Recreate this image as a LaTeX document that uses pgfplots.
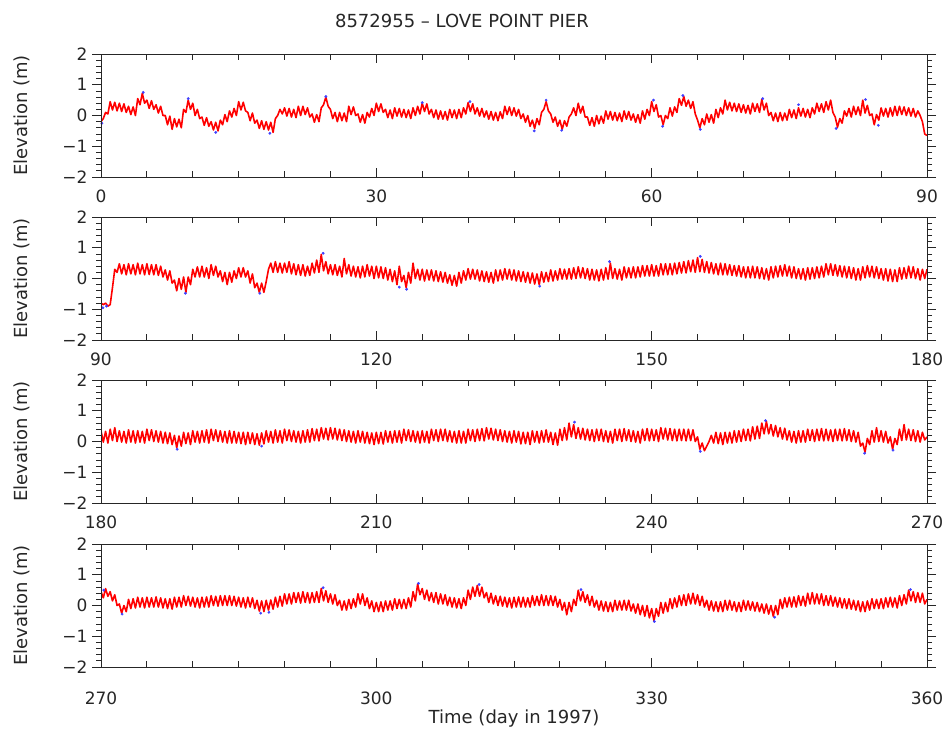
\documentclass[border=0pt]{standalone}
\usepackage{pgfplots}
\usepackage{pgfplotstable}
\pgfplotsset{compat=1.18}
\usepackage{fontspec}
\setmainfont{DejaVu Sans}

% Panel 1: days 0-90, 4 samples per day
\pgfplotstableread[row sep=\\]{y\\
-0.2\\-0.1\\0.1\\0.05\\
0.45\\0.18\\0.43\\0.15\\
0.40\\0.13\\0.38\\0.10\\
0.30\\0.03\\0.28\\0.0\\
0.55\\0.35\\0.72\\0.40\\
0.50\\0.23\\0.48\\0.20\\
0.35\\0.08\\0.30\\0.0\\
0.0\\-0.30\\-0.02\\-0.45\\
-0.10\\-0.37\\-0.12\\-0.40\\
0.20\\0.10\\0.50\\0.20\\
0.40\\0.0\\0.20\\-0.10\\
-0.05\\-0.32\\-0.07\\-0.35\\
-0.20\\-0.47\\-0.22\\-0.50\\
-0.15\\-0.30\\0.03\\-0.20\\
0.15\\-0.05\\0.23\\0.0\\
0.45\\0.18\\0.43\\0.15\\
0.10\\-0.17\\0.08\\-0.25\\
-0.15\\-0.42\\-0.17\\-0.45\\
-0.20\\-0.47\\-0.22\\-0.55\\
-0.10\\0.0\\0.20\\0.05\\
0.25\\-0.02\\0.23\\-0.05\\
0.20\\-0.07\\0.30\\0.0\\
0.30\\0.03\\0.25\\-0.05\\
0.05\\-0.22\\0.03\\-0.20\\
0.25\\0.35\\0.60\\0.30\\
0.20\\-0.10\\0.10\\-0.20\\
0.10\\-0.17\\0.08\\-0.20\\
0.30\\0.03\\0.28\\0.0\\
0.05\\-0.22\\0.03\\-0.25\\
0.10\\-0.05\\0.23\\0.0\\
0.40\\0.13\\0.38\\0.10\\
0.20\\-0.07\\0.18\\-0.10\\
0.25\\-0.02\\0.23\\-0.05\\
0.20\\-0.07\\0.18\\-0.10\\
0.25\\0.0\\0.30\\0.05\\
0.40\\0.13\\0.38\\0.05\\
0.20\\-0.07\\0.18\\-0.12\\
0.15\\-0.12\\0.13\\-0.15\\
0.20\\-0.07\\0.18\\-0.10\\
0.20\\-0.07\\0.25\\0.05\\
0.42\\0.13\\0.38\\0.05\\
0.25\\-0.02\\0.23\\-0.05\\
0.15\\-0.12\\0.13\\-0.15\\
0.10\\-0.17\\0.12\\-0.10\\
0.30\\0.03\\0.28\\0.0\\
0.25\\-0.02\\0.20\\-0.10\\
0.05\\-0.22\\0.0\\-0.35\\
-0.15\\-0.42\\-0.10\\-0.30\\
0.10\\0.20\\0.45\\0.15\\
0.05\\-0.22\\-0.05\\-0.35\\
-0.15\\-0.45\\-0.17\\-0.35\\
-0.05\\0.05\\0.25\\0.0\\
0.40\\0.08\\0.30\\-0.05\\
-0.05\\-0.32\\-0.07\\-0.35\\
0.0\\-0.27\\-0.02\\-0.25\\
0.15\\-0.12\\0.13\\-0.15\\
0.10\\-0.17\\0.08\\-0.20\\
0.15\\-0.12\\0.13\\-0.15\\
0.05\\-0.22\\0.03\\-0.25\\
0.15\\-0.12\\0.20\\0.0\\
0.45\\0.13\\0.35\\-0.05\\
0.0\\-0.30\\0.0\\-0.10\\
0.25\\-0.02\\0.28\\0.10\\
0.55\\0.33\\0.62\\0.30\\
0.50\\0.23\\0.45\\0.05\\
-0.15\\-0.40\\-0.10\\-0.30\\
0.05\\-0.22\\0.03\\-0.25\\
0.20\\-0.07\\0.25\\0.05\\
0.50\\0.18\\0.43\\0.15\\
0.40\\0.13\\0.38\\0.10\\
0.35\\0.08\\0.33\\0.05\\
0.40\\0.13\\0.38\\0.10\\
0.52\\0.18\\0.40\\0.0\\
0.10\\-0.17\\0.08\\-0.20\\
0.10\\-0.17\\0.08\\-0.15\\
0.20\\-0.07\\0.18\\-0.10\\
0.25\\-0.02\\0.23\\-0.05\\
0.20\\-0.07\\0.25\\0.05\\
0.40\\0.13\\0.38\\0.10\\
0.45\\0.18\\0.50\\0.10\\
-0.05\\-0.38\\-0.10\\-0.25\\
0.15\\-0.02\\0.23\\-0.05\\
0.30\\0.03\\0.28\\0.0\\
0.50\\0.08\\0.33\\0.0\\
0.05\\-0.30\\0.03\\-0.15\\
0.25\\-0.02\\0.23\\-0.05\\
0.25\\-0.02\\0.30\\0.0\\
0.30\\0.03\\0.28\\0.0\\
0.25\\-0.02\\0.23\\-0.05\\
0.15\\0.0\\-0.20\\-0.60\\
-0.65\\
}\tA

% Panel 2: days 90-180
\pgfplotstableread[row sep=\\]{y\\
-0.8\\-0.85\\-0.8\\-0.9\\
-0.85\\-0.3\\0.3\\0.2\\
0.48\\0.15\\0.45\\0.12\\
0.48\\0.15\\0.45\\0.12\\
0.50\\0.15\\0.45\\0.12\\
0.48\\0.13\\0.45\\0.12\\
0.45\\0.10\\0.40\\0.05\\
0.28\\-0.05\\0.25\\-0.15\\
-0.05\\-0.40\\0.0\\-0.35\\
0.05\\-0.45\\0.05\\-0.20\\
0.30\\0.05\\0.38\\0.05\\
0.40\\0.05\\0.35\\0.0\\
0.45\\0.10\\0.40\\0.05\\
0.25\\-0.10\\0.20\\-0.20\\
0.20\\-0.12\\0.25\\0.0\\
0.35\\0.05\\0.35\\0.05\\
0.25\\-0.15\\0.15\\-0.30\\
-0.15\\-0.45\\-0.15\\-0.45\\
-0.10\\0.30\\0.50\\0.20\\
0.55\\0.20\\0.50\\0.18\\
0.50\\0.20\\0.55\\0.15\\
0.48\\0.12\\0.45\\0.10\\
0.45\\0.08\\0.40\\0.10\\
0.50\\0.18\\0.60\\0.20\\
0.78\\0.25\\0.55\\0.15\\
0.45\\0.12\\0.45\\0.10\\
0.40\\0.05\\0.65\\0.15\\
0.45\\0.08\\0.40\\0.05\\
0.38\\0.02\\0.40\\0.05\\
0.45\\0.08\\0.40\\0.0\\
0.40\\0.02\\0.38\\0.0\\
0.35\\-0.05\\0.30\\-0.10\\
0.25\\-0.20\\0.40\\-0.10\\
0.10\\-0.30\\0.20\\-0.15\\
0.50\\0.0\\0.30\\-0.05\\
0.30\\-0.08\\0.28\\-0.05\\
0.28\\-0.08\\0.25\\-0.10\\
0.22\\-0.12\\0.20\\-0.15\\
0.12\\-0.22\\0.10\\-0.25\\
0.20\\-0.15\\0.25\\-0.05\\
0.32\\-0.02\\0.30\\-0.02\\
0.28\\-0.08\\0.25\\-0.10\\
0.22\\-0.12\\0.20\\-0.15\\
0.28\\-0.08\\0.28\\-0.05\\
0.32\\-0.02\\0.30\\-0.05\\
0.28\\-0.08\\0.25\\-0.10\\
0.22\\-0.12\\0.20\\-0.15\\
0.18\\-0.18\\0.15\\-0.20\\
0.22\\-0.12\\0.20\\-0.10\\
0.28\\-0.08\\0.25\\-0.05\\
0.32\\-0.02\\0.30\\-0.02\\
0.32\\-0.02\\0.35\\0.0\\
0.38\\0.02\\0.35\\0.0\\
0.32\\-0.05\\0.30\\-0.05\\
0.28\\-0.08\\0.30\\-0.05\\
0.35\\-0.02\\0.50\\0.0\\
0.32\\-0.02\\0.30\\-0.05\\
0.38\\0.02\\0.35\\0.02\\
0.38\\0.02\\0.38\\0.05\\
0.42\\0.08\\0.42\\0.08\\
0.45\\0.08\\0.42\\0.08\\
0.48\\0.12\\0.48\\0.12\\
0.48\\0.12\\0.50\\0.15\\
0.52\\0.18\\0.55\\0.18\\
0.58\\0.22\\0.60\\0.20\\
0.68\\0.22\\0.62\\0.20\\
0.55\\0.18\\0.52\\0.15\\
0.48\\0.12\\0.50\\0.12\\
0.48\\0.12\\0.45\\0.10\\
0.42\\0.08\\0.42\\0.05\\
0.38\\0.02\\0.38\\0.02\\
0.40\\0.02\\0.38\\0.0\\
0.35\\-0.02\\0.32\\-0.05\\
0.38\\0.02\\0.40\\0.05\\
0.42\\0.08\\0.45\\0.08\\
0.40\\0.02\\0.38\\0.0\\
0.32\\-0.02\\0.32\\-0.05\\
0.35\\-0.02\\0.35\\0.0\\
0.38\\0.02\\0.40\\0.05\\
0.48\\0.12\\0.48\\0.10\\
0.45\\0.08\\0.42\\0.05\\
0.40\\0.02\\0.38\\0.0\\
0.35\\-0.05\\0.32\\-0.05\\
0.38\\0.02\\0.42\\0.05\\
0.40\\0.02\\0.38\\0.0\\
0.32\\-0.05\\0.32\\-0.08\\
0.30\\-0.10\\0.28\\-0.10\\
0.35\\-0.02\\0.35\\0.0\\
0.40\\0.02\\0.38\\0.0\\
0.32\\-0.05\\0.30\\0.0\\
0.3\\
}\tB

% Panel 3: days 180-270
\pgfplotstableread[row sep=\\]{y\\
0.35\\-0.02\\0.33\\-0.05\\
0.40\\0.03\\0.45\\0.0\\
0.35\\-0.02\\0.33\\-0.05\\
0.38\\-0.02\\0.35\\-0.05\\
0.35\\-0.02\\0.33\\-0.05\\
0.40\\0.03\\0.38\\0.0\\
0.35\\-0.02\\0.33\\-0.05\\
0.30\\-0.07\\0.28\\-0.10\\
0.20\\-0.20\\0.18\\-0.15\\
0.30\\-0.07\\0.28\\-0.10\\
0.35\\-0.02\\0.33\\-0.05\\
0.35\\-0.02\\0.38\\-0.05\\
0.40\\0.03\\0.38\\0.0\\
0.35\\-0.02\\0.33\\-0.05\\
0.35\\-0.05\\0.33\\-0.05\\
0.30\\-0.07\\0.30\\-0.10\\
0.30\\-0.07\\0.28\\-0.10\\
0.25\\-0.12\\0.28\\-0.08\\
0.35\\-0.02\\0.33\\-0.05\\
0.38\\-0.02\\0.35\\-0.05\\
0.40\\0.03\\0.38\\0.0\\
0.35\\-0.02\\0.33\\-0.05\\
0.35\\-0.02\\0.38\\-0.02\\
0.42\\0.03\\0.40\\0.02\\
0.45\\0.08\\0.43\\0.05\\
0.45\\0.08\\0.43\\0.05\\
0.40\\0.03\\0.38\\0.0\\
0.35\\-0.02\\0.33\\-0.05\\
0.35\\-0.02\\0.33\\-0.05\\
0.30\\-0.07\\0.28\\-0.10\\
0.30\\-0.07\\0.30\\-0.08\\
0.35\\-0.02\\0.33\\-0.05\\
0.35\\-0.02\\0.35\\-0.05\\
0.40\\0.03\\0.38\\0.0\\
0.35\\-0.02\\0.33\\-0.05\\
0.35\\-0.02\\0.33\\-0.05\\
0.40\\0.03\\0.38\\0.0\\
0.40\\0.03\\0.40\\0.0\\
0.35\\-0.02\\0.33\\-0.05\\
0.35\\-0.05\\0.33\\-0.05\\
0.40\\0.03\\0.38\\0.0\\
0.40\\0.03\\0.42\\0.02\\
0.45\\0.08\\0.43\\0.05\\
0.40\\0.03\\0.38\\0.0\\
0.35\\-0.02\\0.33\\-0.05\\
0.35\\-0.02\\0.33\\-0.08\\
0.30\\-0.07\\0.30\\-0.10\\
0.35\\-0.02\\0.33\\-0.05\\
0.35\\-0.02\\0.38\\-0.02\\
0.30\\-0.10\\0.28\\-0.12\\
0.40\\0.03\\0.45\\0.05\\
0.60\\0.15\\0.55\\0.10\\
0.45\\0.08\\0.43\\0.05\\
0.40\\0.03\\0.38\\0.0\\
0.40\\0.03\\0.40\\0.0\\
0.35\\-0.02\\0.33\\-0.05\\
0.40\\0.03\\0.40\\0.0\\
0.42\\0.03\\0.38\\0.0\\
0.35\\-0.02\\0.33\\-0.05\\
0.40\\0.03\\0.42\\0.02\\
0.40\\0.03\\0.38\\0.0\\
0.45\\0.08\\0.43\\0.05\\
0.42\\0.03\\0.40\\0.02\\
0.40\\0.03\\0.40\\0.02\\
0.40\\0.03\\0.38\\0.0\\
0.15\\-0.25\\-0.05\\-0.30\\
-0.15\\0.0\\0.20\\-0.05\\
0.30\\-0.07\\0.28\\-0.10\\
0.30\\-0.05\\0.30\\-0.05\\
0.35\\-0.02\\0.35\\0.0\\
0.40\\0.03\\0.40\\0.02\\
0.48\\0.08\\0.50\\0.10\\
0.60\\0.25\\0.65\\0.25\\
0.55\\0.18\\0.52\\0.15\\
0.45\\0.08\\0.43\\0.05\\
0.35\\-0.02\\0.33\\-0.05\\
0.35\\-0.02\\0.35\\-0.02\\
0.40\\0.03\\0.38\\0.0\\
0.40\\0.03\\0.42\\0.02\\
0.40\\0.03\\0.38\\0.0\\
0.40\\0.03\\0.40\\0.02\\
0.42\\0.03\\0.38\\0.0\\
0.35\\-0.02\\0.30\\-0.15\\
-0.05\\-0.35\\0.10\\-0.10\\
0.35\\-0.02\\0.45\\0.0\\
0.35\\-0.02\\0.33\\-0.05\\
0.15\\-0.25\\0.10\\-0.10\\
0.40\\0.03\\0.55\\0.05\\
0.40\\0.03\\0.38\\0.0\\
0.35\\-0.02\\0.30\\0.05\\
0.15\\
}\tC

% Panel 4: days 270-360
\pgfplotstableread[row sep=\\]{y\\
0.45\\0.25\\0.55\\0.30\\
0.45\\0.15\\0.35\\0.0\\
0.05\\-0.25\\0.0\\-0.20\\
0.20\\-0.10\\0.22\\-0.08\\
0.27\\-0.05\\0.25\\-0.08\\
0.27\\-0.05\\0.25\\-0.05\\
0.28\\-0.05\\0.25\\-0.08\\
0.22\\-0.10\\0.22\\-0.12\\
0.27\\-0.05\\0.27\\-0.05\\
0.32\\0.0\\0.30\\-0.02\\
0.27\\-0.05\\0.25\\-0.08\\
0.27\\-0.05\\0.28\\-0.05\\
0.32\\0.0\\0.30\\-0.02\\
0.32\\0.0\\0.32\\0.0\\
0.32\\0.0\\0.30\\-0.02\\
0.27\\-0.05\\0.25\\-0.08\\
0.27\\-0.05\\0.25\\-0.10\\
0.17\\-0.18\\0.15\\-0.20\\
0.17\\-0.15\\0.18\\-0.12\\
0.27\\-0.05\\0.30\\-0.02\\
0.38\\0.05\\0.38\\0.05\\
0.42\\0.10\\0.42\\0.08\\
0.45\\0.10\\0.42\\0.08\\
0.42\\0.10\\0.45\\0.10\\
0.55\\0.15\\0.48\\0.10\\
0.38\\0.05\\0.35\\0.0\\
0.17\\-0.15\\0.15\\-0.15\\
0.20\\-0.10\\0.22\\-0.05\\
0.38\\0.05\\0.38\\0.0\\
0.25\\-0.10\\0.15\\-0.20\\
0.10\\-0.20\\0.12\\-0.20\\
0.15\\-0.15\\0.15\\-0.15\\
0.22\\-0.10\\0.20\\-0.10\\
0.20\\-0.10\\0.25\\-0.05\\
0.45\\0.15\\0.70\\0.35\\
0.55\\0.20\\0.50\\0.15\\
0.42\\0.10\\0.42\\0.05\\
0.38\\0.05\\0.35\\0.0\\
0.27\\-0.05\\0.25\\-0.08\\
0.22\\-0.10\\0.25\\0.0\\
0.50\\0.20\\0.60\\0.30\\
0.65\\0.30\\0.60\\0.25\\
0.42\\0.10\\0.40\\0.05\\
0.32\\0.0\\0.30\\-0.02\\
0.27\\-0.05\\0.25\\-0.08\\
0.27\\-0.05\\0.28\\-0.05\\
0.27\\-0.05\\0.25\\-0.05\\
0.32\\0.0\\0.30\\0.0\\
0.35\\0.0\\0.32\\0.0\\
0.32\\0.0\\0.30\\-0.05\\
0.20\\-0.15\\0.10\\-0.30\\
0.10\\-0.20\\0.20\\0.0\\
0.50\\0.15\\0.45\\0.10\\
0.35\\0.0\\0.30\\-0.05\\
0.17\\-0.15\\0.15\\-0.18\\
0.12\\-0.20\\0.10\\-0.20\\
0.17\\-0.15\\0.15\\-0.15\\
0.17\\-0.15\\0.17\\-0.18\\
0.05\\-0.25\\0.05\\-0.30\\
0.0\\-0.35\\0.0\\-0.40\\
-0.10\\-0.50\\-0.10\\-0.35\\
0.10\\-0.25\\0.10\\-0.20\\
0.22\\-0.10\\0.25\\-0.05\\
0.32\\0.0\\0.35\\0.0\\
0.38\\0.05\\0.40\\0.05\\
0.35\\0.0\\0.30\\-0.05\\
0.17\\-0.15\\0.15\\-0.18\\
0.12\\-0.20\\0.12\\-0.20\\
0.17\\-0.15\\0.17\\-0.15\\
0.12\\-0.20\\0.10\\-0.20\\
0.17\\-0.15\\0.15\\-0.15\\
0.12\\-0.18\\0.10\\-0.20\\
0.05\\-0.25\\0.05\\-0.28\\
0.0\\-0.35\\0.0\\-0.30\\
0.20\\-0.10\\0.25\\-0.05\\
0.27\\-0.05\\0.28\\-0.05\\
0.32\\0.0\\0.30\\-0.02\\
0.40\\0.05\\0.42\\0.05\\
0.38\\0.05\\0.38\\0.0\\
0.32\\0.0\\0.32\\-0.02\\
0.27\\-0.05\\0.25\\-0.08\\
0.22\\-0.10\\0.22\\-0.12\\
0.17\\-0.15\\0.15\\-0.20\\
0.12\\-0.20\\0.15\\-0.15\\
0.22\\-0.10\\0.20\\-0.10\\
0.22\\-0.10\\0.25\\-0.05\\
0.27\\-0.05\\0.25\\-0.08\\
0.32\\0.0\\0.35\\0.05\\
0.50\\0.15\\0.45\\0.10\\
0.42\\0.10\\0.40\\0.05\\
0.2\\
}\tD

\pgfplotsset{
  panel/.style={width=826pt,height=123pt,scale only axis,anchor=south west,
    ymin=-2,ymax=2,axis line style={line width=0.9pt,black!85},
    every tick/.style={black!85,line width=0.8pt},
    tick label style={font=\fontsize{17}{20}\selectfont,text=black!85}},
  dataax/.style={panel,xtick=\empty,ytick={-2,-1,0,1,2},
    yticklabels={−2,−1,0,1,2},minor y tick num=4,tick align=outside,
    major tick length=9pt,minor tick length=5pt,
    yticklabel style={xshift=-1pt}},
  tickax/.style={panel,ytick=\empty,minor x tick num=5,tick align=inside,
    major tick length=9pt,minor tick length=6pt,
    xticklabel style={yshift=-9pt}},
  tide/.style={red,line width=1.6pt,line join=round},
  obs/.style={only marks,mark=*,mark size=1.2pt,color=blue!75!white}
}

\begin{document}
\begin{tikzpicture}
\path[use as bounding box] (0pt,0pt) rectangle (950pt,-740pt);
\node[font=\fontsize{18}{21}\selectfont,text=black!85] at (462pt,-21pt) {8572955 -- LOVE POINT PIER};
% Panel 1
\begin{axis}[dataax,at={(101pt,-177pt)},xmin=0,xmax=90]
\addplot[obs] coordinates {(0.1,-0.25)(4.6,0.75)(9.5,0.55)(12.5,-0.55)(18.4,-0.58)(24.5,0.62)(35,0.42)(40.2,0.45)(47.2,-0.5)(48.5,0.5)(50.2,-0.48)(60.2,0.5)(61.2,-0.35)(63.4,0.65)(65.3,-0.45)(72.1,0.55)(76,0.35)(80.1,-0.42)(84.7,-0.32)(83.3,0.52)};
\addplot[tide] table[x expr=\coordindex*0.25,y index=0] {\tA};
\end{axis}
\begin{axis}[tickax,at={(101pt,-177pt)},xmin=0,xmax=90,xtick={0,30,60,90},xticklabels={0,30,60,90}]
\end{axis}
% Panel 2
\begin{axis}[dataax,at={(101pt,-340pt)},xmin=90,xmax=180]
\addplot[obs] coordinates {(90.2,-0.95)(90.6,-0.9)(99.2,-0.48)(107.3,-0.48)(114.2,0.82)(122.5,-0.28)(123.3,-0.35)(137.8,-0.25)(155.3,0.72)(145.4,0.55)};
\addplot[tide] table[x expr=\coordindex*0.25+90,y index=0] {\tB};
\end{axis}
\begin{axis}[tickax,at={(101pt,-340pt)},xmin=90,xmax=180,xtick={90,120,150,180},xticklabels={90,120,150,180}]
\end{axis}
% Panel 3
\begin{axis}[dataax,at={(101pt,-503pt)},xmin=180,xmax=270]
\addplot[obs] coordinates {(188.3,-0.25)(231.6,0.63)(245.3,-0.32)(252.4,0.68)(263.2,-0.38)(266.3,-0.28)(197.5,-0.15)};
\addplot[tide] table[x expr=\coordindex*0.25+180,y index=0] {\tC};
\end{axis}
\begin{axis}[tickax,at={(101pt,-503pt)},xmin=180,xmax=270,xtick={180,210,240,270},xticklabels={180,210,240,270}]
\end{axis}
% Panel 4
\begin{axis}[dataax,at={(101pt,-667pt)},xmin=270,xmax=360]
\addplot[obs] coordinates {(270.3,0.5)(272.3,-0.28)(287.4,-0.25)(288.3,-0.22)(294.2,0.58)(304.6,0.72)(311.2,0.68)(322.3,0.52)(330.3,-0.52)(343.4,-0.38)(358.2,0.52)};
\addplot[tide] table[x expr=\coordindex*0.25+270,y index=0] {\tD};
\end{axis}
\begin{axis}[tickax,at={(101pt,-667pt)},xmin=270,xmax=360,xtick={270,300,330,360},xticklabels={270,300,330,360},xticklabel style={yshift=-12pt}]
\end{axis}
% y labels
\foreach \yc in {115.5,278.5,441.5,605.5}
  \node[rotate=90,font=\fontsize{18}{21}\selectfont,text=black!85] at (22pt,-\yc pt) {Elevation (m)};
\node[font=\fontsize{18}{21}\selectfont,text=black!85] at (514pt,-719pt) {Time (day in 1997)};
\end{tikzpicture}
\end{document}
